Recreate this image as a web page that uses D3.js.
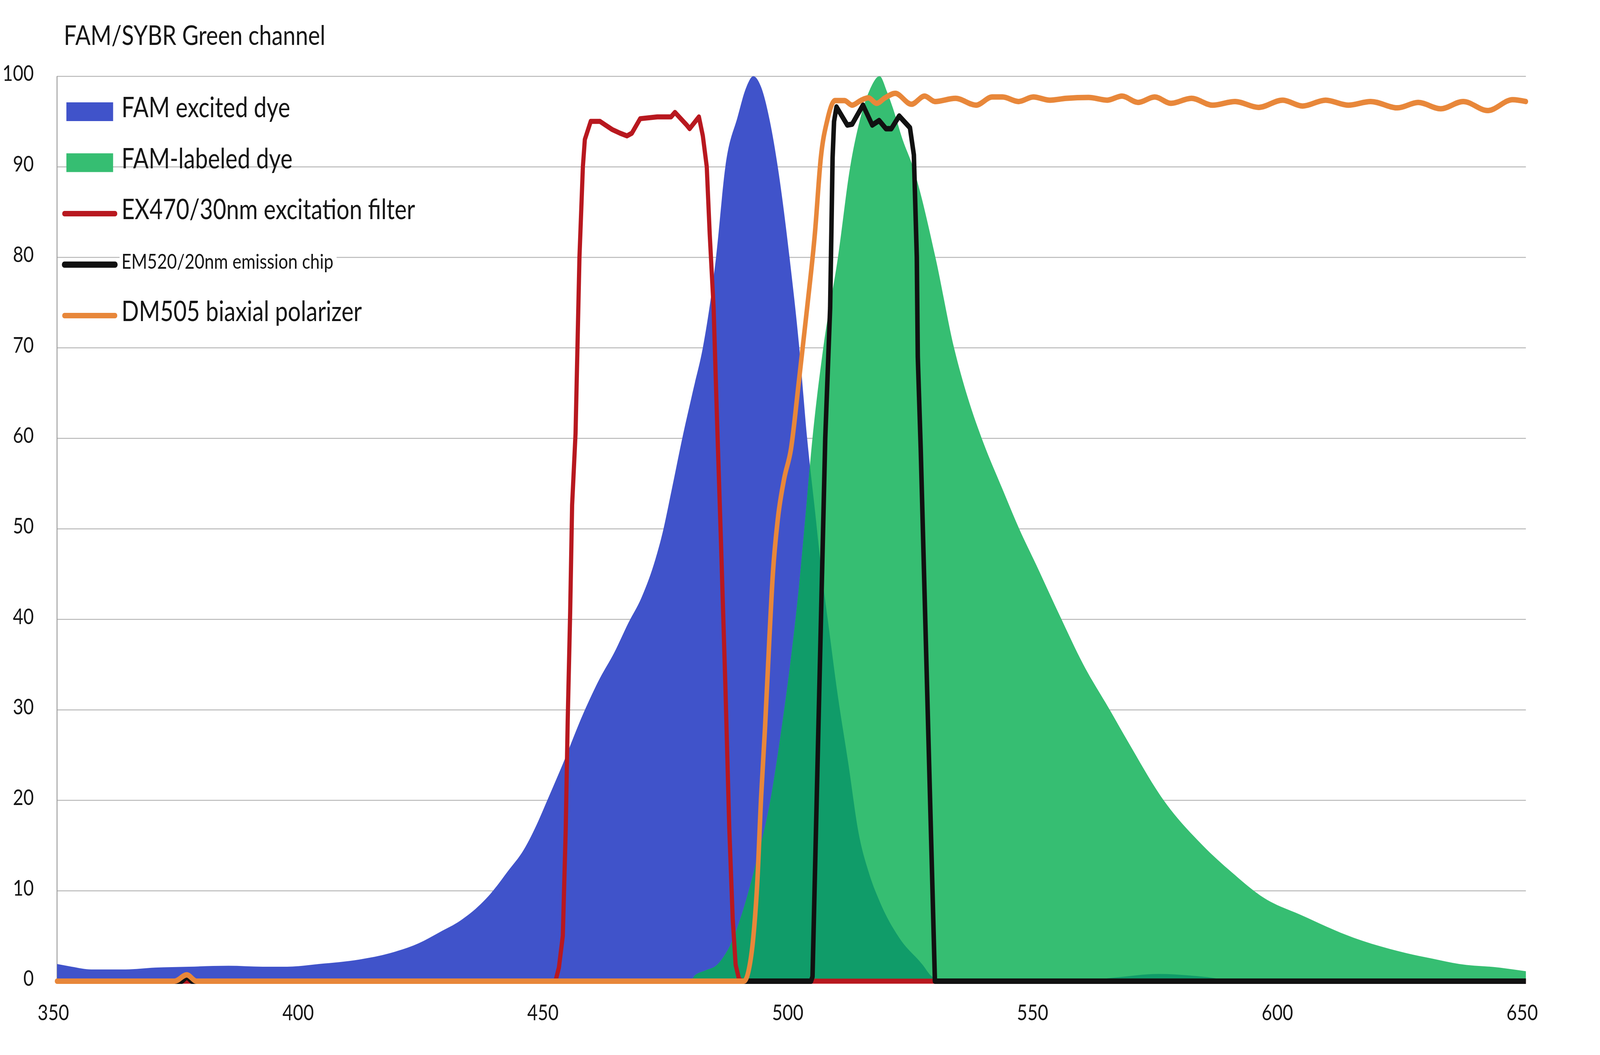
<!DOCTYPE html>
<html>
<head>
<meta charset="utf-8">
<script src="https://cdn.jsdelivr.net/npm/d3@7"></script>
<style>
  html, body { margin: 0; padding: 0; background: #fff; overflow: hidden; }
  #chart svg { display: block; width: 100vw; height: 100vh; }
  text { font-family: Lato, "Noto Sans", sans-serif; }
</style>
</head>
<body>
<div id="chart"></div>
<script>
// ---- data (wavelength nm / relative intensity %) ----
const blueNm  = [350, 353, 357, 364, 370, 377, 385, 392, 397, 403.5, 411.8, 418, 423.9, 428.1, 432.4, 436.5, 438.6, 442, 445.3, 448.3, 449.9, 453.3, 457.5, 460.9, 463.8, 466.7, 469.3, 472.2, 473.7, 475.5, 477.9, 480, 481.9, 484.6, 486.5, 489, 490.8, 492.2, 493.8, 495.6, 497.2, 499.6, 501.6, 503.2, 504.8, 506.2, 507.5, 509.4, 511.6, 513.7, 515.8, 518.1, 522, 526.8, 528.5, 531, 558, 566, 575, 584, 592, 650];
const blueVal = [1.9, 1.6, 1.3, 1.3, 1.5, 1.6, 1.7, 1.6, 1.6, 1.9, 2.4, 3.1, 4.2, 5.4, 6.7, 8.5, 9.7, 12.1, 14.5, 17.7, 19.7, 24, 29.6, 33.5, 36.3, 39.6, 42.3, 46.6, 49.6, 54.2, 60.5, 65.5, 70, 80, 90, 95.5, 98.8, 100, 98.8, 95, 90, 80, 70, 60, 52, 45, 39.6, 31.8, 24.1, 16.4, 12, 8.7, 4.8, 1.8, 0.6, 0, 0, 0.4, 0.8, 0.5, 0, 0];

const greenNm  = [479.6, 480.2, 482.5, 484.8, 486.5, 487.7, 489.8, 492.5, 495.8, 498, 499.9, 501.5, 502.8, 504.2, 506.5, 509.5, 512, 513.9, 516, 518, 519.5, 520.7, 522.7, 524.8, 529.4, 533.2, 536, 539.2, 543, 546.5, 550, 554.7, 559.6, 565.1, 568.8, 576, 584, 590, 596.5, 604.1, 614.8, 625.6, 630.8, 636.4, 644.6, 650];
const greenVal = [0, 0.6, 1.2, 1.8, 3, 4.2, 7.3, 12.5, 20.3, 28, 35.7, 43.4, 51, 59.5, 70, 80, 90, 95, 98.5, 100, 98.3, 96.5, 93, 90, 80, 70, 64.5, 59.5, 54.5, 50, 46, 40.5, 35, 29.9, 26.4, 20, 15, 12, 9.2, 7.3, 4.8, 3.1, 2.5, 1.9, 1.5, 1.1];

const exNm  = [350, 451.8, 452.5, 453.3, 453.9, 454.3, 454.8, 455.2, 455.9, 456.7, 457.4, 457.8, 459, 460.9, 462, 463.4, 465, 466.4, 467.4, 469.1, 472.6, 475.4, 476.2, 478.6, 479.2, 481.1, 481.9, 482.7, 483.3, 484.1, 484.8, 485.6, 486.5, 487.3, 488, 488.6, 489.3, 490, 650];
const exVal = [0, 0, 1.5, 5, 16.9, 28.8, 40.7, 52.6, 60.5, 80, 90, 93, 95, 95, 94.6, 94.1, 93.7, 93.4, 93.7, 95.3, 95.5, 95.5, 96, 94.6, 94.2, 95.5, 93.4, 90, 82.6, 74.4, 62, 48.6, 32.7, 16.9, 6.9, 1.8, 0.2, 0, 0];

const emNm  = [350, 375.5, 376.5, 377.5, 504, 504.3, 506.9, 507.9, 508.4, 508.7, 509.2, 511.4, 512.4, 514.6, 516.5, 517.9, 519.3, 520.4, 522, 524.2, 525, 525.6, 525.8, 526.4, 529.3, 650];
const emVal = [0, 0, 0.5, 0, 0, 0.5, 60, 74.4, 91, 95, 96.6, 94.6, 94.7, 96.8, 94.6, 95.1, 94.2, 94.2, 95.6, 94.3, 91.3, 80, 69, 58.8, 0, 0];

const dmNm  = [350, 374, 376.5, 378.5, 490.3, 491.3, 492.2, 493, 493.8, 494.6, 495.5, 496.2, 497.2, 498.5, 499.9, 501.5, 503.2, 504.8, 506, 507.3, 508.9, 510.8, 512.4, 514.1, 515.7, 517.4, 519.1, 521.2, 524.5, 527.2, 529.3, 533.5, 537.7, 541, 543.1, 546.4, 549.4, 552.8, 556.1, 560.7, 564.5, 567.5, 570.8, 574.2, 577.5, 581.7, 586, 590.6, 595.4, 600.3, 604.4, 609.1, 613.7, 618.3, 623.8, 628, 632.6, 637.2, 642.2, 647.3, 650];
const dmVal = [0, 0, 0.7, 0, 0, 1.3, 4.8, 10.7, 20.3, 28, 38, 45, 51, 55.5, 58.8, 66.2, 74.4, 82.7, 91, 95.1, 97.3, 97.3, 96.8, 97.3, 97.6, 97, 97.6, 98.1, 96.9, 97.8, 97.2, 97.55, 96.8, 97.7, 97.7, 97.2, 97.7, 97.35, 97.55, 97.65, 97.35, 97.8, 97.1, 97.7, 97, 97.55, 96.8, 97.2, 96.55, 97.35, 96.7, 97.35, 96.8, 97.2, 96.5, 97.1, 96.4, 97.2, 96.2, 97.4, 97.2];

const xTicks = [350, 400, 450, 500, 550, 600, 650];
const yTicks = [0, 10, 20, 30, 40, 50, 60, 70, 80, 90, 100];
const titleText = 'FAM/SYBR Green channel';
const legendLabels = ['FAM excited dye', 'FAM-labeled dye', 'EX470/30nm excitation filter', 'EM520/20nm emission chip', 'DM505 biaxial polarizer'];

// ---- styling ----
const COLORS = {
    blue: '#4053ca', green: '#36be72', overlap: '#109c69',
    red: '#b8181f', black: '#111111', orange: '#e8873a',
    grid: '#b8b8b8', axis: '#a0a0a0', text: '#151515'
};

const W = 4965, H = 2701;
const M = { top: 195, right: 230, bottom: 189, left: 177 };

const svg = d3.select('#chart').append('svg')
    .attr('viewBox', `0 0 ${W} ${H}`)
    .attr('preserveAspectRatio', 'none')
    .style('background', '#fff');

const x = d3.scaleLinear().domain([350, 650]).range([M.left, W - M.right]);
const y = d3.scaleLinear().domain([0, 100]).range([H - M.bottom, M.top]);

const zip = (xs, ys) => xs.map((v, i) => ({ nm: v, v: ys[i] }));
const blue = zip(blueNm, blueVal);
const green = zip(greenNm, greenVal);
const ex = zip(exNm, exVal);
const em = zip(emNm, emVal);
const dm = zip(dmNm, dmVal);

// Gridlines
svg.append('g').attr('transform', `translate(${M.left},0)`)
    .call(d3.axisLeft(y).tickValues(yTicks).tickSize(-(W - M.left - M.right)).tickFormat(''))
    .call((sel) => sel.select('.domain').remove())
    .call((sel) => sel.selectAll('line').attr('stroke', COLORS.grid).attr('stroke-width', 2.5));

// Y tick labels
svg.append('g').attr('transform', `translate(${M.left},0)`)
    .call(d3.axisLeft(y).tickValues(yTicks).tickSize(0).tickPadding(72))
    .call((sel) => sel.select('.domain').remove())
    .call((sel) => sel.selectAll('text')
        .attr('y', -6).attr('fill', COLORS.text)
        .style('font-size', '56px').style('font-family', 'Lato, "Noto Sans", sans-serif'));

// X tick labels
svg.append('g').attr('transform', `translate(0,${y(0)})`)
    .call(d3.axisBottom(x).tickValues(xTicks).tickSize(0).tickPadding(60))
    .call((sel) => sel.select('.domain').remove())
    .call((sel) => sel.selectAll('text')
        .attr('x', -12).attr('fill', COLORS.text)
        .style('font-size', '56px').style('font-family', 'Lato, "Noto Sans", sans-serif'));

// Left axis line
svg.append('line')
    .attr('x1', x(350)).attr('x2', x(350)).attr('y1', y(100)).attr('y2', y(0))
    .attr('stroke', COLORS.axis).attr('stroke-width', 3);

// Dye spectra (areas); the blue/green overlap is the green area clipped to the blue one
const area = d3.area().x((d) => x(d.nm)).y0(y(0)).y1((d) => y(d.v)).curve(d3.curveMonotoneX);

svg.append('defs').append('clipPath').attr('id', 'blue-clip')
    .append('path').datum(blue).attr('d', area);

svg.append('path').datum(blue).attr('fill', COLORS.blue).attr('d', area);
svg.append('path').datum(green).attr('fill', COLORS.green).attr('d', area);
svg.append('path').datum(green).attr('fill', COLORS.overlap)
    .attr('clip-path', 'url(#blue-clip)').attr('d', area);

// Filter curves
const lineSharp = d3.line().x((d) => x(d.nm)).y((d) => y(d.v)).curve(d3.curveLinear);
const lineSmooth = d3.line().x((d) => x(d.nm)).y((d) => y(d.v)).curve(d3.curveMonotoneX);

svg.append('path').datum(ex).attr('fill', 'none').attr('stroke', COLORS.red)
    .attr('stroke-width', 13).attr('stroke-linejoin', 'round').attr('d', lineSharp);
svg.append('path').datum(em).attr('fill', 'none').attr('stroke', COLORS.black)
    .attr('stroke-width', 14).attr('stroke-linejoin', 'round').attr('d', lineSharp);
svg.append('path').datum(dm).attr('fill', 'none').attr('stroke', COLORS.orange)
    .attr('stroke-width', 14).attr('stroke-linejoin', 'round').attr('stroke-linecap', 'round').attr('d', lineSmooth);

// Title
svg.append('text').attr('x', 198).attr('y', 115)
    .attr('fill', COLORS.text).style('font-size', '70px').text(titleText);

// Legend
const legendKinds = [
    { type: 'rect', color: COLORS.blue, size: 71 },
    { type: 'rect', color: COLORS.green, size: 71 },
    { type: 'line', color: COLORS.red, size: 71, sw: 14 },
    { type: 'line', color: COLORS.black, size: 53, sw: 16 },
    { type: 'line', color: COLORS.orange, size: 71, sw: 14 }
];
const legend = svg.append('g');
legendLabels.forEach((label, i) => {
    const k = legendKinds[i];
    const cy = 286 + i * 130.5;
    const row = legend.append('g');
    if (k.type === 'rect') {
        row.append('rect').attr('x', 206).attr('y', cy - 24).attr('width', 145).attr('height', 48).attr('fill', k.color);
    } else {
        row.append('line').attr('x1', 200).attr('x2', 357).attr('y1', cy).attr('y2', cy)
            .attr('stroke', k.color).attr('stroke-width', k.sw).attr('stroke-linecap', 'round');
    }
    const t = row.append('text').attr('x', 377).attr('y', cy).attr('dy', '0.2em')
        .attr('fill', COLORS.text).style('font-size', `${k.size}px`).text(label);
    if (i === 3) {
        const b = t.node().getBBox();
        row.insert('rect', 'text').attr('x', b.x - 6).attr('y', b.y - 4)
            .attr('width', b.width + 16).attr('height', b.height + 8).attr('fill', '#fff');
    }
});
</script>
</body>
</html>
